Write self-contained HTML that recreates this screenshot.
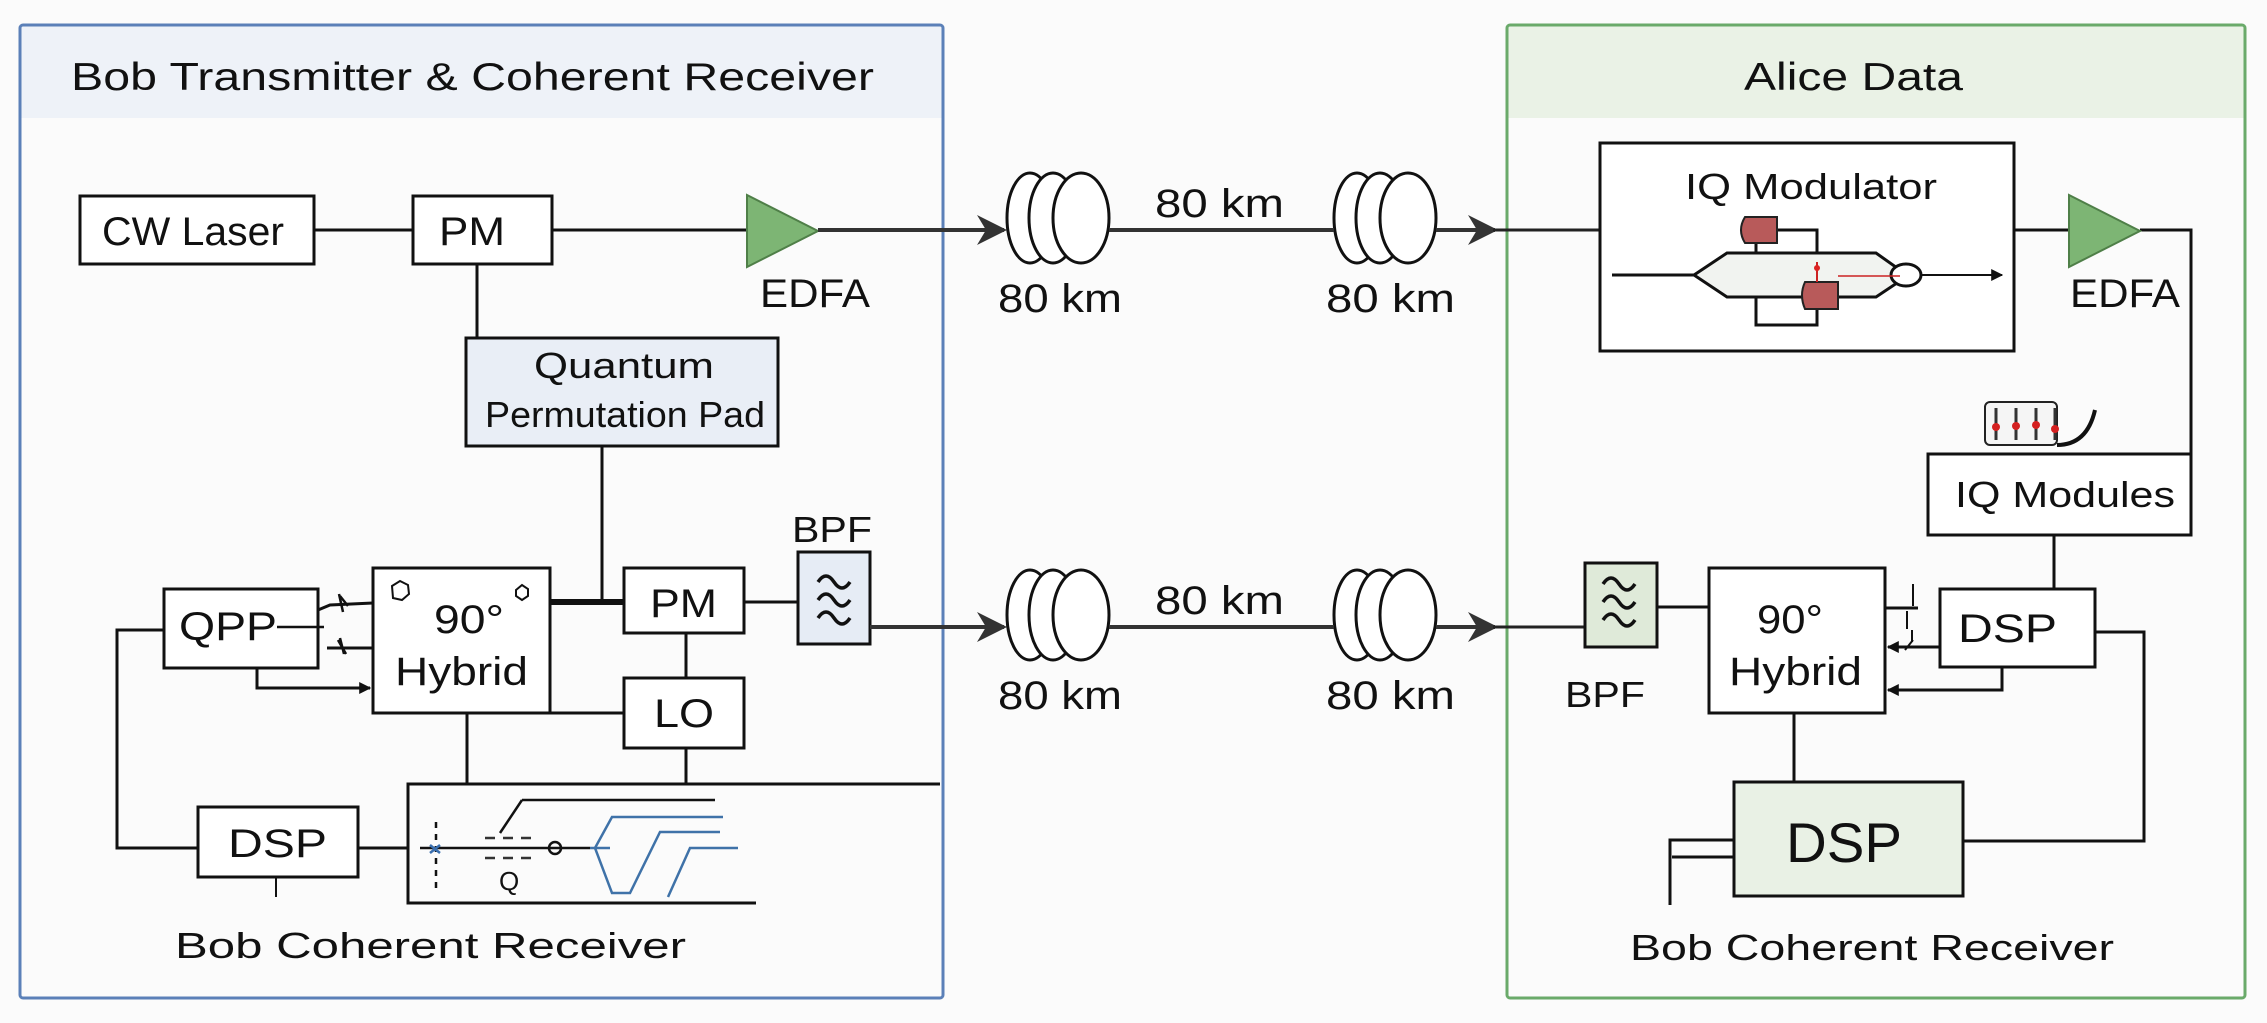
<!DOCTYPE html>
<html><head><meta charset="utf-8"><style>
html,body{margin:0;padding:0;background:#fbfbfb;}
svg{display:block;}
text{font-family:"Liberation Sans",sans-serif;fill:#111;}
</style></head><body>
<svg width="2267" height="1023" viewBox="0 0 2267 1023" xmlns="http://www.w3.org/2000/svg">
<defs>
<marker id="ah" viewBox="0 0 10 10" refX="9" refY="5" markerWidth="12" markerHeight="12" markerUnits="userSpaceOnUse" orient="auto"><path d="M0,0 L10,5 L0,10 z" fill="#111"/></marker>
<marker id="big" viewBox="0 0 10 10" refX="9" refY="5" markerWidth="32" markerHeight="30" markerUnits="userSpaceOnUse" orient="auto"><path d="M0,0 L10,5 L0,10 L3,5 z" fill="#333"/></marker>
</defs>
<rect width="2267" height="1023" fill="#fbfbfb"/>

<!-- Left panel -->
<rect x="20" y="25" width="923" height="93" fill="#eef2f8"/>
<rect x="20" y="25" width="923" height="973" fill="none" stroke="#5b80b8" stroke-width="3" rx="3"/>
<text x="71" y="90" font-size="39" textLength="803" lengthAdjust="spacingAndGlyphs">Bob Transmitter &amp; Coherent Receiver</text>

<!-- Right panel -->
<rect x="1507" y="25" width="738" height="93" fill="#eaf2e6"/>
<rect x="1507" y="25" width="738" height="973" fill="none" stroke="#6aaa6a" stroke-width="3" rx="3"/>
<text x="1744" y="90" font-size="39" textLength="219" lengthAdjust="spacingAndGlyphs">Alice Data</text>

<g stroke="#111" stroke-width="3" fill="none">
<rect x="80" y="196" width="234" height="68" fill="#fff"/>
<rect x="413" y="196" width="139" height="68" fill="#fff"/>
<line x1="314" y1="230" x2="413" y2="230"/>
<line x1="552" y1="230" x2="747" y2="230"/>
<line x1="477" y1="264" x2="477" y2="338"/>
<rect x="466" y="338" width="312" height="108" fill="#e9eef6"/>
<line x1="602" y1="446" x2="602" y2="602"/>

<rect x="164" y="589" width="154" height="79" fill="#fff"/>
<rect x="373" y="568" width="177" height="145" fill="#fff"/>
<rect x="624" y="568" width="120" height="65" fill="#fff"/>
<rect x="624" y="678" width="120" height="70" fill="#fff"/>
<rect x="798" y="552" width="72" height="92" fill="#e6ecf5"/>
<line x1="550" y1="602" x2="624" y2="602" stroke-width="6"/>
<line x1="744" y1="602" x2="798" y2="602"/>
<line x1="686" y1="633" x2="686" y2="678"/>
<line x1="550" y1="713" x2="624" y2="713"/>
<line x1="467" y1="713" x2="467" y2="783"/>
<line x1="686" y1="748" x2="686" y2="783"/>
<polyline points="318,610 330,605 373,603"/>
<line x1="277" y1="627" x2="324" y2="627" stroke-width="2.5"/>
<line x1="327" y1="648" x2="373" y2="648"/>
<polyline points="257,668 257,688 370,688" marker-end="url(#ah)"/>
<path d="M340,596 l8,10 M343,612 l-4,-18 M338,640 l8,14 M344,654 l-4,-16" stroke-width="2.5"/>
<polyline points="164,630 117,630 117,848 198,848"/>
<rect x="198" y="807" width="160" height="70" fill="#fff"/>
<line x1="358" y1="848" x2="408" y2="848"/>
<line x1="276" y1="877" x2="276" y2="897" stroke-width="2"/>
<polyline points="940,784 408,784 408,903 756,903"/>
<path d="M392,586 l8,-5 l8,4 l1,9 l-7,6 l-9,-2 z" stroke-width="2"/>
<path d="M516,590 l6,-5 l6,4 l0,7 l-6,4 l-6,-4 z" stroke-width="2"/>
</g>
<g fill="none" stroke-width="2.5">
<polyline points="522,800 500,833" stroke="#111"/>
<line x1="522" y1="800" x2="715" y2="800" stroke="#111"/>
<line x1="420" y1="848" x2="590" y2="848" stroke="#111"/>
<line x1="436" y1="822" x2="436" y2="888" stroke="#111" stroke-dasharray="6,6"/>
<path d="M485,838 h50 M485,858 h50" stroke="#333" stroke-dasharray="10,8"/>
<circle cx="555" cy="848" r="6" stroke="#111"/>
<path d="M430,845 l10,8 M440,845 l-10,8" stroke="#3a6fb0"/>
<polyline points="723,817 612,817 595,848 612,893 630,893 660,832 720,832" stroke="#3f72a8"/>
<polyline points="738,848 690,848 668,897" stroke="#3f72a8"/>
<polyline points="590,848 610,848" stroke="#3f72a8"/>
</g>
<text x="499" y="890" font-size="26">Q</text>

<polygon points="747,195 818,231 747,267" fill="#7db574" stroke="#4f7f48" stroke-width="2"/>
<line x1="818" y1="230" x2="1004" y2="230" stroke="#333" stroke-width="4" marker-end="url(#big)"/>
<line x1="870" y1="627" x2="1004" y2="627" stroke="#333" stroke-width="4" marker-end="url(#big)"/>
<path d="M818,582 q8,-12 16,0 t16,0 M818,600 q8,-12 16,0 t16,0 M818,618 q8,-12 16,0 t16,0" stroke="#111" stroke-width="3.5" fill="none"/>

<g stroke="#111" stroke-width="3" fill="#fff">
<ellipse cx="1030" cy="218" rx="23" ry="45"/>
<ellipse cx="1053" cy="218" rx="24" ry="45"/>
<ellipse cx="1081" cy="218" rx="28" ry="45"/>
<ellipse cx="1357" cy="218" rx="23" ry="45"/>
<ellipse cx="1380" cy="218" rx="24" ry="45"/>
<ellipse cx="1408" cy="218" rx="28" ry="45"/>
<ellipse cx="1030" cy="615" rx="23" ry="45"/>
<ellipse cx="1053" cy="615" rx="24" ry="45"/>
<ellipse cx="1081" cy="615" rx="28" ry="45"/>
<ellipse cx="1357" cy="615" rx="23" ry="45"/>
<ellipse cx="1380" cy="615" rx="24" ry="45"/>
<ellipse cx="1408" cy="615" rx="28" ry="45"/>
</g>
<g stroke="#333" stroke-width="4">
<line x1="1109" y1="230" x2="1334" y2="230"/>
<line x1="1109" y1="627" x2="1334" y2="627"/>
<line x1="1436" y1="230" x2="1495" y2="230" marker-end="url(#big)"/>
<line x1="1436" y1="627" x2="1495" y2="627" marker-end="url(#big)"/>
<line x1="1493" y1="230" x2="1739" y2="230" stroke-width="3" stroke="#222"/>
<line x1="1493" y1="627" x2="1585" y2="627" stroke-width="3" stroke="#222"/>
</g>
<g font-size="40">
<text x="1155" y="217" textLength="129" lengthAdjust="spacingAndGlyphs">80 km</text>
<text x="998" y="312" textLength="124" lengthAdjust="spacingAndGlyphs">80 km</text>
<text x="1326" y="312" textLength="129" lengthAdjust="spacingAndGlyphs">80 km</text>
<text x="1155" y="614" textLength="129" lengthAdjust="spacingAndGlyphs">80 km</text>
<text x="998" y="709" textLength="124" lengthAdjust="spacingAndGlyphs">80 km</text>
<text x="1326" y="709" textLength="129" lengthAdjust="spacingAndGlyphs">80 km</text>
</g>

<g stroke="#111" stroke-width="3" fill="none">
<rect x="1600" y="143" width="414" height="208" fill="#fff"/>
<polyline points="1777,230 1817,230 1817,325 1756,325 1756,243"/>
<polygon points="1694,275 1727,253 1876,253 1900,270 1900,281 1876,297 1727,297" fill="#f1f3f0"/>
<line x1="1612" y1="275" x2="1694" y2="275"/>
<ellipse cx="1906" cy="275" rx="15" ry="11" fill="#fff"/>
<line x1="1921" y1="275" x2="2002" y2="275" stroke-width="2" marker-end="url(#ah)"/>
<line x1="2014" y1="230" x2="2069" y2="230"/>
<polyline points="2140,230 2191,230 2191,454"/>
<rect x="1928" y="454" width="263" height="81" fill="#fff"/>
<line x1="2054" y1="535" x2="2054" y2="589"/>
<rect x="1585" y="563" width="72" height="84" fill="#dfead9"/>
<line x1="1657" y1="607" x2="1709" y2="607"/>
<rect x="1709" y="568" width="176" height="145" fill="#fff"/>
<rect x="1940" y="589" width="155" height="78" fill="#fff"/>
<line x1="1885" y1="608" x2="1918" y2="608"/>
<line x1="1940" y1="647" x2="1888" y2="647" marker-end="url(#ah)"/>
<polyline points="2002,667 2002,690 1888,690" marker-end="url(#ah)"/>
<path d="M1913,584 v22 M1907,611 v18 M1912,630 v12 M1905,650 l8,-10" stroke-width="2"/>
<polyline points="2095,632 2144,632 2144,841 1963,841"/>
<line x1="1794" y1="713" x2="1794" y2="782"/>
<rect x="1734" y="782" width="229" height="114" fill="#e9f1e5"/>
<polyline points="1734,840 1670,840 1670,905"/>
<line x1="1672" y1="857" x2="1734" y2="857"/>
</g>
<path d="M1603,584 q8,-12 16,0 t16,0 M1603,602 q8,-12 16,0 t16,0 M1603,620 q8,-12 16,0 t16,0" stroke="#111" stroke-width="3.5" fill="none"/>
<path d="M1745,217 h32 v26 h-32 q-8,-13 0,-26 z" fill="#b85a5a" stroke="#222" stroke-width="2"/>
<path d="M1805,282 h33 v27 h-33 q-6,-14 0,-27 z" fill="#b85a5a" stroke="#222" stroke-width="2"/>
<line x1="1817" y1="262" x2="1817" y2="282" stroke="#c22" stroke-width="2"/>
<circle cx="1817" cy="268" r="3" fill="#d22"/>
<line x1="1838" y1="276" x2="1900" y2="276" stroke="#c22" stroke-width="1.5"/>
<polygon points="2069,195 2140,231 2069,267" fill="#7db574" stroke="#4f7f48" stroke-width="2"/>
<g>
<rect x="1985" y="402" width="72" height="43" rx="5" fill="#f5f5f5" stroke="#222" stroke-width="2"/>
<g stroke="#333" stroke-width="3"><line x1="1996" y1="408" x2="1996" y2="440"/><line x1="2016" y1="408" x2="2016" y2="440"/><line x1="2036" y1="408" x2="2036" y2="440"/><line x1="2055" y1="408" x2="2055" y2="440"/></g>
<g fill="#d42020"><circle cx="1996" cy="427" r="4"/><circle cx="2016" cy="426" r="4"/><circle cx="2036" cy="425" r="4"/><circle cx="2055" cy="429" r="4"/></g>
<path d="M2057,445 q30,0 38,-35" stroke="#111" stroke-width="4" fill="none"/>
</g>

<g font-size="40">
<text x="102" y="245" textLength="182" lengthAdjust="spacingAndGlyphs">CW Laser</text>
<text x="439" y="245" textLength="66" lengthAdjust="spacingAndGlyphs">PM</text>
<text x="760" y="307" textLength="110" lengthAdjust="spacingAndGlyphs">EDFA</text>
<text x="2070" y="307" textLength="110" lengthAdjust="spacingAndGlyphs">EDFA</text>
<text x="179" y="640" textLength="98" lengthAdjust="spacingAndGlyphs">QPP</text>
<text x="434" y="633" textLength="70" lengthAdjust="spacingAndGlyphs">90°</text>
<text x="395" y="685" textLength="133" lengthAdjust="spacingAndGlyphs">Hybrid</text>
<text x="650" y="617" textLength="67" lengthAdjust="spacingAndGlyphs">PM</text>
<text x="654" y="727" textLength="60" lengthAdjust="spacingAndGlyphs">LO</text>
<text x="228" y="857" textLength="99" lengthAdjust="spacingAndGlyphs">DSP</text>
<text x="1757" y="633" textLength="66" lengthAdjust="spacingAndGlyphs">90°</text>
<text x="1729" y="685" textLength="133" lengthAdjust="spacingAndGlyphs">Hybrid</text>
<text x="1958" y="642" textLength="99" lengthAdjust="spacingAndGlyphs">DSP</text>
</g>
<g font-size="36">
<text x="534" y="378" textLength="180" lengthAdjust="spacingAndGlyphs">Quantum</text>
<text x="485" y="427" textLength="280" lengthAdjust="spacingAndGlyphs">Permutation Pad</text>
<text x="792" y="542" textLength="80" lengthAdjust="spacingAndGlyphs">BPF</text>
<text x="1565" y="707" textLength="80" lengthAdjust="spacingAndGlyphs">BPF</text>
<text x="1685" y="199" textLength="252" lengthAdjust="spacingAndGlyphs">IQ Modulator</text>
<text x="1955" y="507" textLength="220" lengthAdjust="spacingAndGlyphs">IQ Modules</text>
<text x="175" y="958" textLength="511" lengthAdjust="spacingAndGlyphs">Bob Coherent Receiver</text>
<text x="1630" y="960" textLength="484" lengthAdjust="spacingAndGlyphs">Bob Coherent Receiver</text>
</g>
<text x="1786" y="862" font-size="56" textLength="116" lengthAdjust="spacingAndGlyphs">DSP</text>
</svg>
</body></html>
